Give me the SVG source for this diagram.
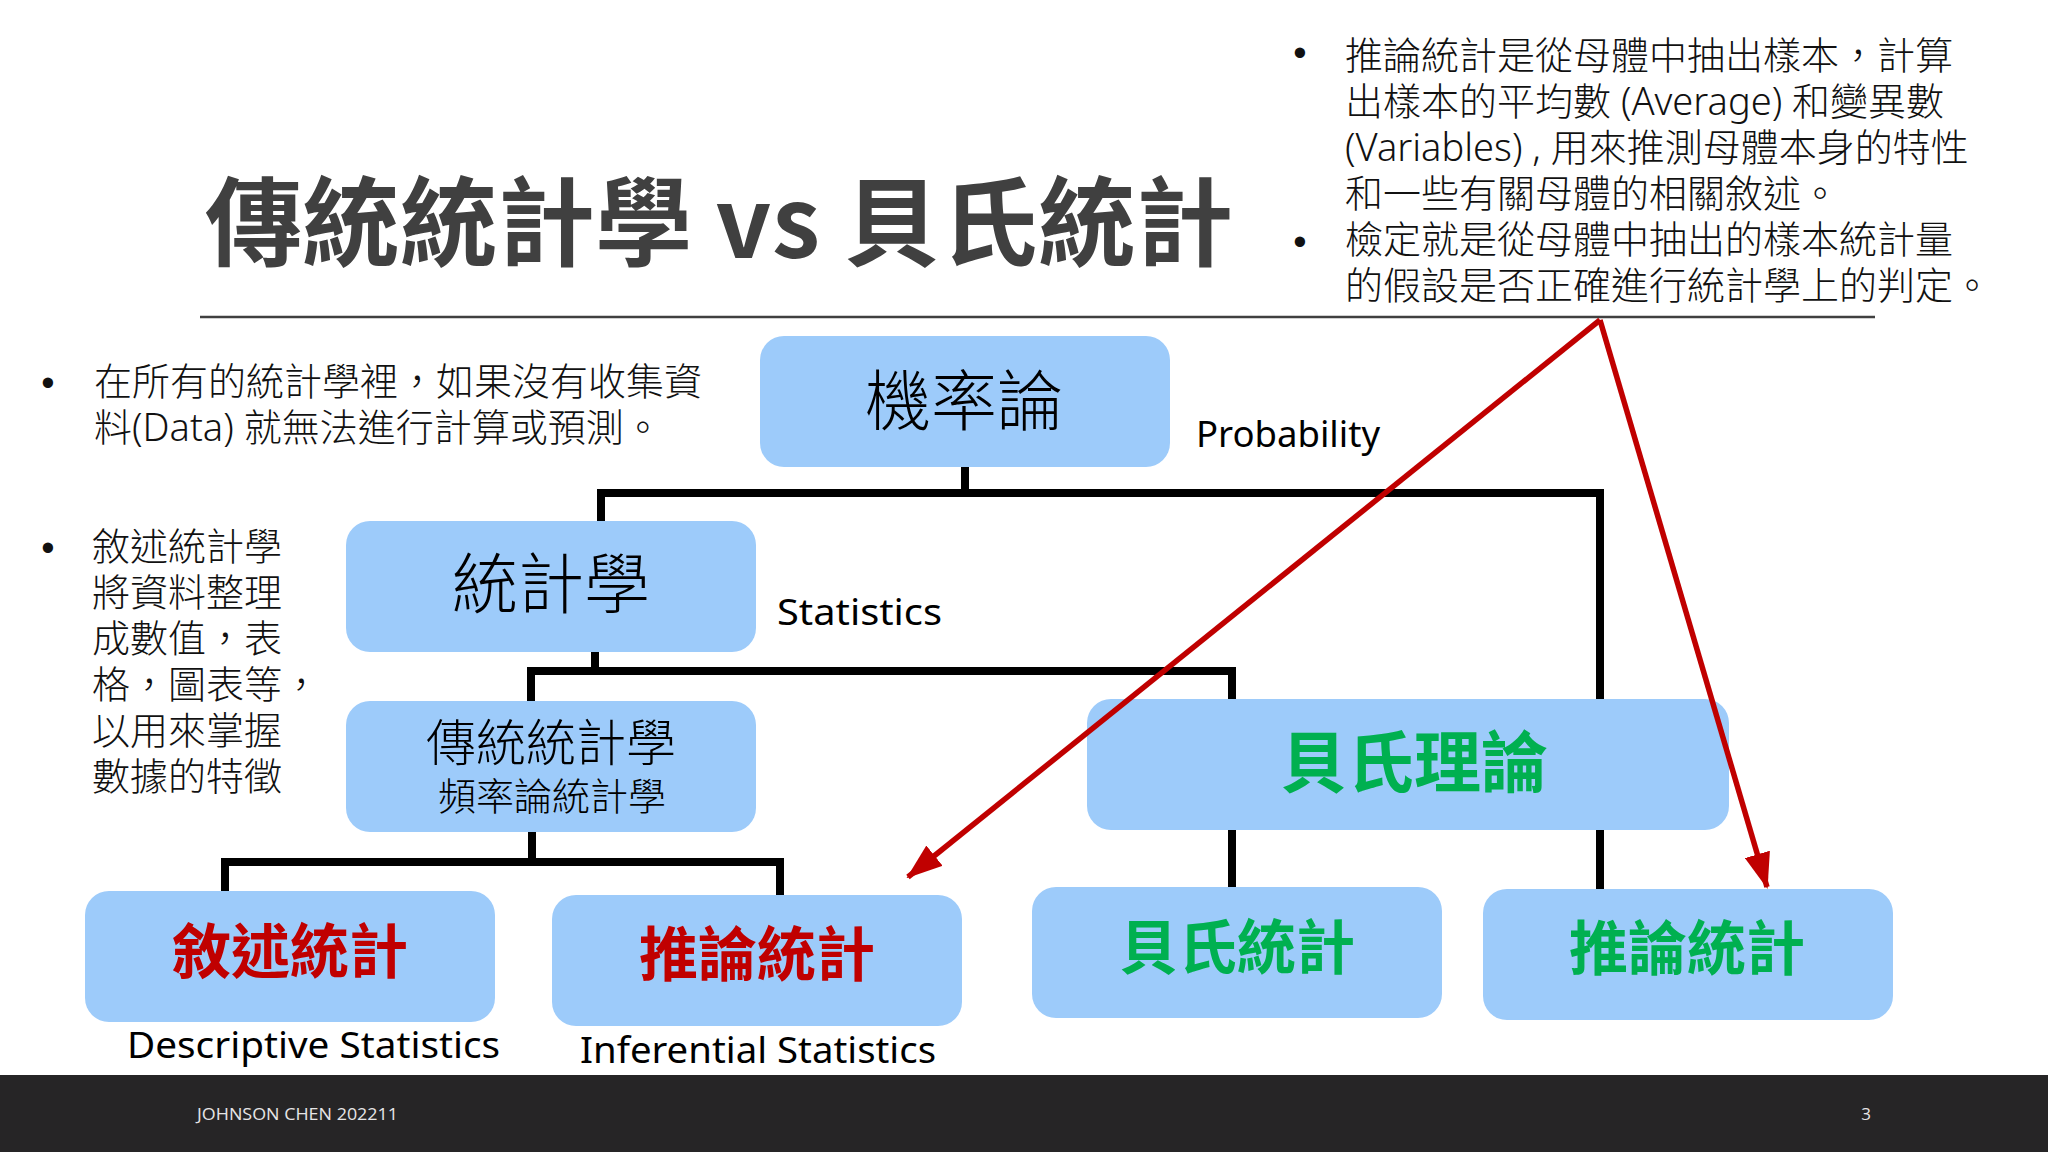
<svg xmlns="http://www.w3.org/2000/svg" width="2048" height="1152" viewBox="0 0 2048 1152">
  <defs>
    <style>
      .cjk { font-family: "Noto Sans CJK TC", "Noto Sans CJK SC", sans-serif; }
      .lat { font-family: "Noto Sans", "Open Sans", "Liberation Sans", sans-serif; fill: #000; }
      .body { font-family: "Noto Sans", "Noto Sans CJK TC", sans-serif; font-size: 38px; font-weight: 300; fill: #111; }
      .bullet { font-family: "Liberation Sans", sans-serif; font-size: 38px; fill: #111; }
      .box { fill: #9dcbfa; }
      .wire { fill: none; stroke: #000; stroke-width: 8; }
      .red-arrow { fill: none; stroke: #c00000; stroke-width: 5.5; }
      .lbl-black { font-family: "Noto Sans CJK TC", sans-serif; font-weight: 300; fill: #000; text-anchor: middle; }
      .lbl-red { font-family: "Noto Sans CJK TC", sans-serif; fill: #c00000; font-weight: 700; font-size: 59px; text-anchor: middle; }
      .lbl-green { font-family: "Noto Sans CJK TC", sans-serif; fill: #00b050; font-weight: 700; text-anchor: middle; }
    </style>
    <marker id="redhead" markerUnits="userSpaceOnUse" markerWidth="36" markerHeight="26" refX="34" refY="13" orient="auto">
      <path d="M0,0 L36,13 L0,26 Z" fill="#c00000"/>
    </marker>
  </defs>

  <rect x="0" y="0" width="2048" height="1152" fill="#ffffff"/>

  <!-- heading -->
  <g id="title">
    <text x="205" y="258" class="cjk" font-size="97" font-weight="700" fill="#404040" textLength="1028" lengthAdjust="spacing">傳統統計學 vs 貝氏統計</text>
    <line x1="200" y1="317" x2="1875" y2="317" stroke="#404040" stroke-width="2.5"/>
  </g>

  <!-- notes, top right -->
  <g id="note-inference">
    <text x="1300" y="66" class="bullet" text-anchor="middle">•</text>
    <text x="1300" y="255" class="bullet" text-anchor="middle">•</text>
    <text class="body">
      <tspan x="1345" y="69">推論統計是從母體中抽出樣本，計算</tspan>
      <tspan x="1345" y="115">出樣本的平均數 (Average) 和變異數</tspan>
      <tspan x="1345" y="161">(Variables) , 用來推測母體本身的特性</tspan>
      <tspan x="1345" y="207">和一些有關母體的相關敘述。</tspan>
      <tspan x="1345" y="253">檢定就是從母體中抽出的樣本統計量</tspan>
      <tspan x="1345" y="299">的假設是否正確進行統計學上的判定。</tspan>
    </text>
  </g>

  <!-- notes, left -->
  <g id="note-data">
    <text x="48" y="396" class="bullet" text-anchor="middle">•</text>
    <text class="body">
      <tspan x="94" y="395">在所有的統計學裡，如果沒有收集資</tspan>
      <tspan x="94" y="441">料(Data) 就無法進行計算或預測。</tspan>
    </text>
  </g>
  <g id="note-descriptive">
    <text x="48" y="561" class="bullet" text-anchor="middle">•</text>
    <text class="body">
      <tspan x="92" y="560">敘述統計學</tspan>
      <tspan x="92" y="606">將資料整理</tspan>
      <tspan x="92" y="652">成數值，表</tspan>
      <tspan x="92" y="698">格，圖表等，</tspan>
      <tspan x="92" y="744">以用來掌握</tspan>
      <tspan x="92" y="790">數據的特徵</tspan>
    </text>
  </g>

  <!-- tree connectors -->
  <g id="connectors">
    <path class="wire" d="M965,466 V493"/>
    <path class="wire" d="M601,523 V493 H1604"/>
    <path class="wire" d="M1600,497 V890"/>
    <path class="wire" d="M595,652 V671"/>
    <path class="wire" d="M531,702 V671 H1232 V888"/>
    <path class="wire" d="M532,832 V862"/>
    <path class="wire" d="M225,892 V862 H780 V895"/>
  </g>

  <!-- nodes -->
  <g id="node-probability">
    <rect class="box" x="760" y="336" width="410" height="131" rx="24"/>
    <text x="964" y="425" class="lbl-black" font-size="66">機率論</text>
    <text x="1196" y="447" class="lat" font-size="36" textLength="184" lengthAdjust="spacingAndGlyphs">Probability</text>
  </g>

  <g id="node-statistics">
    <rect class="box" x="346" y="521" width="410" height="131" rx="24"/>
    <text x="551" y="608" class="lbl-black" font-size="66">統計學</text>
    <text x="777" y="625" class="lat" font-size="36" textLength="165" lengthAdjust="spacingAndGlyphs">Statistics</text>
  </g>

  <g id="node-frequentist">
    <rect class="box" x="346" y="701" width="410" height="131" rx="24"/>
    <text x="551" y="761" class="lbl-black" font-size="50">傳統統計學</text>
    <text x="552" y="810" class="lbl-black" font-size="38">頻率論統計學</text>
  </g>

  <g id="node-bayes-theory">
    <rect class="box" x="1087" y="699" width="642" height="131" rx="24"/>
    <text x="1414" y="787" class="lbl-green" font-size="67">貝氏理論</text>
  </g>

  <g id="node-descriptive">
    <rect class="box" x="85" y="891" width="410" height="131" rx="24"/>
    <text x="290" y="973" class="lbl-red">敘述統計</text>
    <text x="127" y="1058" class="lat" font-size="36" textLength="373" lengthAdjust="spacingAndGlyphs">Descriptive Statistics</text>
  </g>

  <g id="node-inferential">
    <rect class="box" x="552" y="895" width="410" height="131" rx="24"/>
    <text x="757" y="976" class="lbl-red">推論統計</text>
    <text x="580" y="1063" class="lat" font-size="36" textLength="356" lengthAdjust="spacingAndGlyphs">Inferential Statistics</text>
  </g>

  <g id="node-bayes-stats">
    <rect class="box" x="1032" y="887" width="410" height="131" rx="24"/>
    <text x="1237" y="969" class="lbl-green" font-size="59">貝氏統計</text>
  </g>

  <g id="node-bayes-inference">
    <rect class="box" x="1483" y="889" width="410" height="131" rx="24"/>
    <text x="1687" y="970" class="lbl-green" font-size="59">推論統計</text>
  </g>

  <!-- red pointers from the note down to both inference nodes -->
  <g id="pointers">
    <path class="red-arrow" d="M1600,320 L908,877" marker-end="url(#redhead)"/>
    <path class="red-arrow" d="M1600,320 L1767,887" marker-end="url(#redhead)"/>
  </g>

  <!-- footer band -->
  <g id="footer">
    <rect x="0" y="1075" width="2048" height="77" fill="#262526"/>
    <text x="197" y="1120" font-family="Open Sans, Liberation Sans, sans-serif" font-size="17" fill="#e6e6e6" textLength="201" lengthAdjust="spacingAndGlyphs">JOHNSON CHEN 202211</text>
    <text x="1866" y="1120" font-family="Open Sans, Liberation Sans, sans-serif" font-size="17" fill="#e6e6e6" text-anchor="middle">3</text>
  </g>
</svg>
